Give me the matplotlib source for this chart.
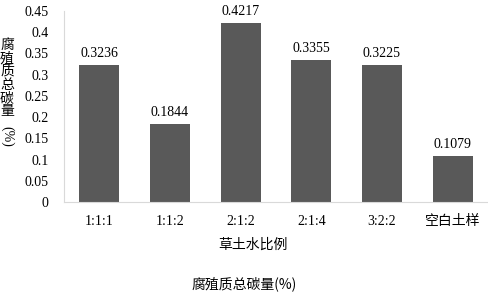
import numpy as np
import matplotlib.pyplot as plt

categories = ['1:1:1', '1:1:2', '2:1:2', '2:1:4', '3:2:2', '空白土样']
values = [0.3236, 0.1844, 0.4217, 0.3355, 0.3225, 0.1079]
yticks = [0, 0.05, 0.1, 0.15, 0.2, 0.25, 0.3, 0.35, 0.4, 0.45]

num_font = ['Liberation Serif', 'Noto Sans CJK SC']
cjk_font = ['Noto Sans CJK SC', 'Liberation Serif']
plt.rcParams['font.family'] = num_font

W, H = 489, 295
fig = plt.figure(figsize=(W / 100, H / 100), dpi=100)
ax = fig.add_axes([64 / W, 93 / H, 424 / W, 191 / H])

x = np.arange(len(categories))
bars = ax.bar(x, values, width=0.57, color='#595959')

# value labels over each bar
for xi, v in zip(x, values):
    ax.text(xi, v + 0.012, '%.4f' % v, ha='center', va='bottom',
            fontsize=10, color='black')

ax.set_xlim(-0.5, len(categories) - 0.5)
ax.set_ylim(0, 0.45)
ax.set_yticks(yticks)
ax.set_yticklabels(['0' if t == 0 else ('%g' % t) for t in yticks], fontsize=10)
ax.set_xticks(x)
ax.set_xticklabels(categories, fontsize=10, family=num_font)
ax.tick_params(axis='y', length=0, pad=11)
ax.tick_params(axis='x', length=0, pad=9.5)

for s in ['top', 'right']:
    ax.spines[s].set_visible(False)
for s in ['left', 'bottom']:
    ax.spines[s].set_color('#d9d9d9')

# y label: stacked characters plus rotated (%)
fig.text(7 / W, 1 - 78 / H, '腐\n殖\n质\n总\n碳\n量', ha='center', va='center',
         fontsize=10, family=cjk_font, linespacing=0.92)
fig.text(7 / W, 1 - 136 / H, '(%)', ha='center', va='center', rotation=-90,
         fontsize=10, family=num_font)

fig.text(0.518, 1 - 245 / H, '草土水比例', ha='center', va='center',
         fontsize=10, family=cjk_font)
fig.text(0.5, 1 - 284 / H, '腐殖质总碳量(%)', ha='center', va='center',
         fontsize=10, family=cjk_font)

fig.savefig('out.png', dpi=100)
